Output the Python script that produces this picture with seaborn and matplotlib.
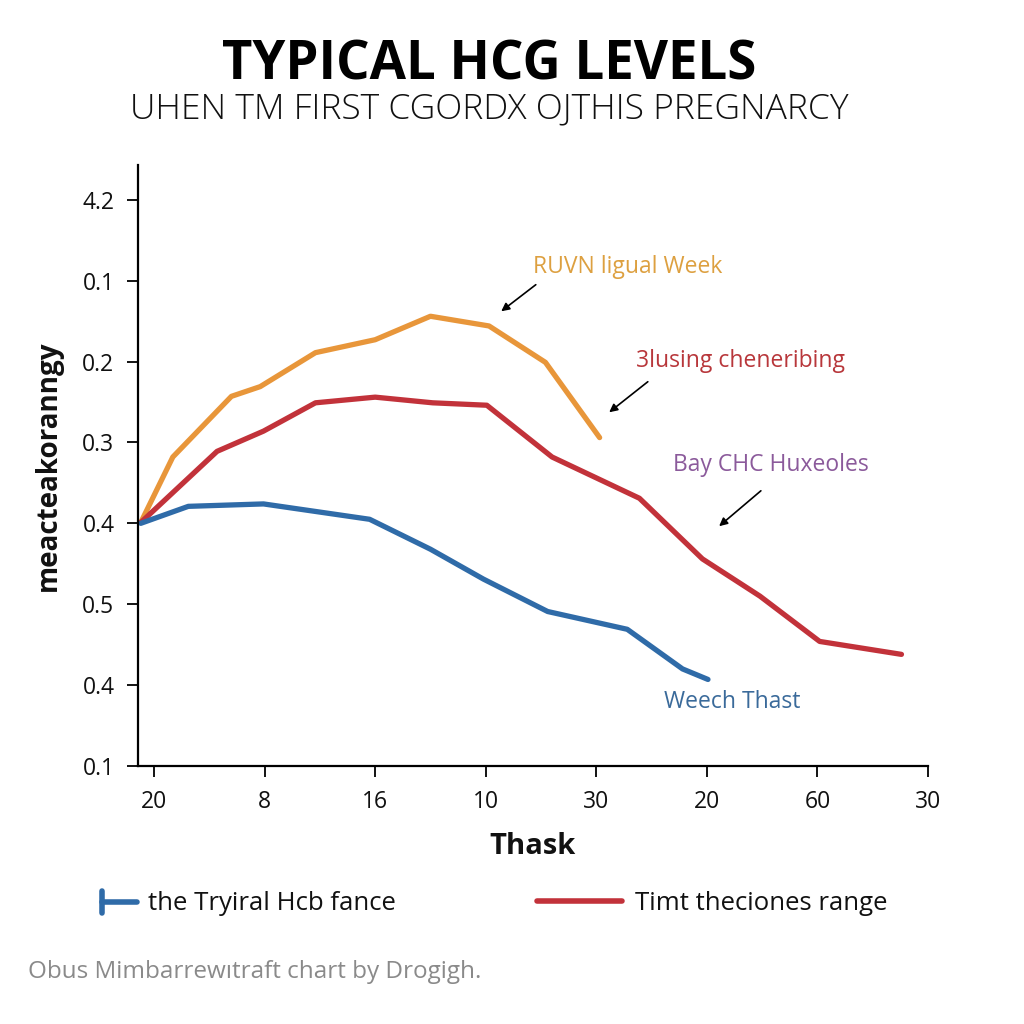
import matplotlib
matplotlib.use("Agg")
import matplotlib.pyplot as plt
from matplotlib.lines import Line2D
import seaborn as sns
import pandas as pd

# ---- data (x in tick-position units, y in tick-position units) ----
x_tick_labels = ["20", "8", "16", "10", "30", "20", "60", "30"]
y_tick_labels = ["0.1", "0.4", "0.5", "0.4", "0.3", "0.2", "0.1", "4.2"]

orange_x = [-0.12, 0.17, 0.70, 0.96, 1.46, 2.00, 2.50, 3.03, 3.54, 4.03]
orange_y = [3.01, 3.82, 4.57, 4.69, 5.11, 5.27, 5.56, 5.44, 4.99, 4.06]

red_x = [-0.12, 0.57, 0.99, 1.46, 2.00, 2.52, 3.01, 3.60, 4.39, 4.96, 5.48, 6.02, 6.76]
red_y = [3.01, 3.89, 4.14, 4.49, 4.56, 4.49, 4.46, 3.82, 3.31, 2.56, 2.10, 1.54, 1.38]

blue_x = [-0.12, 0.31, 0.99, 1.95, 2.50, 2.98, 3.56, 4.28, 4.78, 5.01]
blue_y = [3.00, 3.21, 3.24, 3.05, 2.68, 2.31, 1.91, 1.69, 1.20, 1.07]

series_names = ["RUVN ligual Week", "3lusing cheneribing", "Weech Thast"]
colors = ["#E8963A", "#C2323A", "#2F6BA8"]

df = pd.concat([
    pd.DataFrame({"x": orange_x, "y": orange_y, "series": series_names[0]}),
    pd.DataFrame({"x": red_x, "y": red_y, "series": series_names[1]}),
    pd.DataFrame({"x": blue_x, "y": blue_y, "series": series_names[2]}),
], ignore_index=True)

sns.set_theme(style="white")
plt.rcParams["font.family"] = ["Open Sans", "DejaVu Sans"]

fig = plt.figure(figsize=(10.24, 10.24), dpi=100)
ax = fig.add_axes([138 / 1024, 1 - 766 / 1024, (928 - 138) / 1024, (766 - 165) / 1024])

sns.lineplot(data=df, x="x", y="y", hue="series", palette=dict(zip(series_names, colors)),
             sort=False, estimator=None, linewidth=3.8, legend=False, ax=ax)

ax.set_xlim(-0.145, 7.0)
ax.set_ylim(0, 7.43)
ax.set_xticks(range(len(x_tick_labels)))
ax.set_xticklabels(x_tick_labels, fontsize=16.5)
ax.set_yticks(range(len(y_tick_labels)))
ax.set_yticklabels(y_tick_labels, fontsize=16.5)
ax.tick_params(axis="both", direction="out", length=8, width=1.3, color="black",
               bottom=True, left=True, labelcolor="#111111", pad=9)
for s in ["top", "right"]:
    ax.spines[s].set_visible(False)
for s in ["left", "bottom"]:
    ax.spines[s].set_color("black")
    ax.spines[s].set_linewidth(1.6)

ax.set_xlabel("Thask", fontsize=21, fontweight="bold", labelpad=13, color="#111111")
ax.set_ylabel("meacteakoranngy", fontsize=20, fontweight="bold", labelpad=14, color="#111111")

# annotations
def ann(text, color, txy, start, end):
    fig.text(txy[0] / 1024, 1 - txy[1] / 1024, text, color=color, fontsize=16.5,
             ha="left", va="center")
    fig.add_artist(matplotlib.patches.FancyArrowPatch(
        (start[0] / 1024, 1 - start[1] / 1024), (end[0] / 1024, 1 - end[1] / 1024),
        transform=fig.transFigure, arrowstyle="-|>", mutation_scale=12,
        color="black", linewidth=1.2))

ann("RUVN ligual Week", "#DDA040", (533, 267), (538, 283), (499, 313))
ann("3lusing cheneribing", "#B8373B", (636, 361), (650, 380), (607, 414))
ann("Bay CHC Huxeoles", "#8B5A9B", (673, 465), (763, 489), (717, 528))
fig.text(664 / 1024, 1 - 702 / 1024, "Weech Thast", color="#3A6A9A", fontsize=16.5,
         ha="left", va="center")

# titles
fig.text(0.478, 1 - 66 / 1024, "TYPICAL HCG LEVELS", fontsize=38, fontweight="bold",
         ha="center", va="center", color="black")
fig.text(0.478, 1 - 109 / 1024, "UHEN TM FIRST CGORDX OJTHIS PREGNARCY", fontsize=25.5,
         fontweight="light", ha="center", va="center", color="#111111")

# legend
fig.add_artist(Line2D([102 / 1024, 137 / 1024], [1 - 902 / 1024] * 2, color=colors[2],
                      linewidth=4, transform=fig.transFigure))
fig.add_artist(Line2D([102 / 1024, 102 / 1024], [1 - 891 / 1024, 1 - 913 / 1024],
                      color=colors[2], linewidth=4, transform=fig.transFigure))
fig.text(148 / 1024, 1 - 903 / 1024, "the Tryiral Hcb fance", fontsize=18.5,
         ha="left", va="center", color="#111111")
fig.add_artist(Line2D([537 / 1024, 622 / 1024], [1 - 901 / 1024] * 2, color=colors[1],
                      linewidth=4, transform=fig.transFigure))
fig.text(635 / 1024, 1 - 903 / 1024, "Timt theciones range", fontsize=18.5,
         ha="left", va="center", color="#111111")

fig.text(28 / 1024, 1 - 972 / 1024, "Obus Mimbarrewıtraft chart by Drogigh.", fontsize=17.5,
         ha="left", va="center", color="#8A8A8A")

fig.savefig("out.png", dpi=100, facecolor="white")
